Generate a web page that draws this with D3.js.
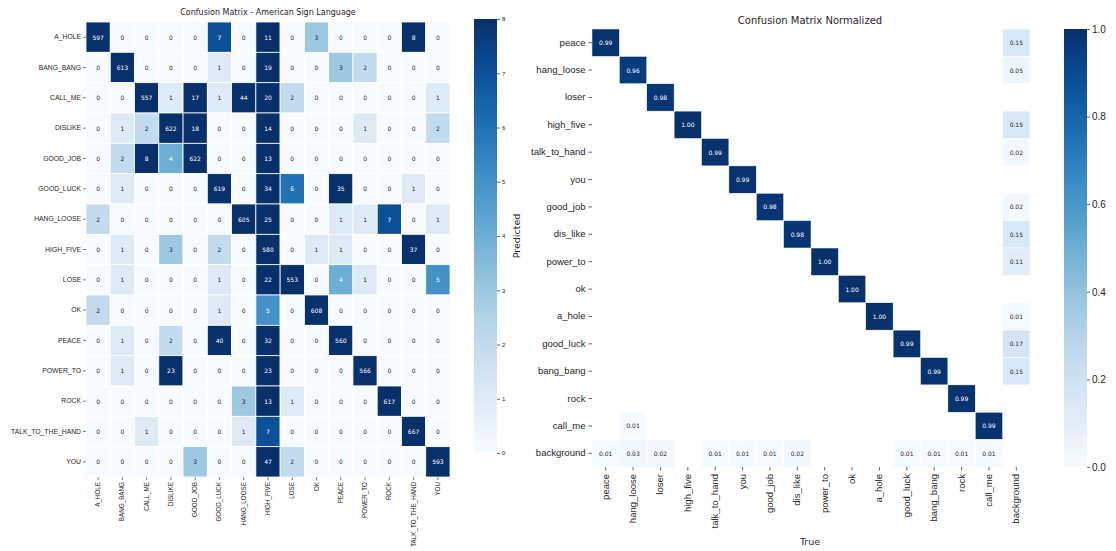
<!DOCTYPE html>
<html>
<head>
<meta charset="utf-8">
<script src="https://cdn.jsdelivr.net/npm/d3@7"></script>
<style>
  html, body { margin: 0; padding: 0; background: #fff; }
  svg { display: block; font-family: "DejaVu Sans", sans-serif; }
  .tick line { stroke: #262626; }
  .tick text { fill: #262626; }
</style>
</head>
<body>
<svg id="chart" width="1116" height="551"></svg>
<script>
// ---- American Sign Language counts (rows = actual, cols = predicted) ----
const aslLabels = ["A_HOLE", "BANG_BANG", "CALL_ME", "DISLIKE", "GOOD_JOB", "GOOD_LUCK",
  "HANG_LOOSE", "HIGH_FIVE", "LOSE", "OK", "PEACE", "POWER_TO", "ROCK", "TALK_TO_THE_HAND", "YOU"];
const aslCounts = [
  [597, 0, 0, 0, 0, 7, 0, 11, 0, 3, 0, 0, 0, 8, 0],
  [0, 613, 0, 0, 0, 1, 0, 19, 0, 0, 3, 2, 0, 0, 0],
  [0, 0, 557, 1, 17, 1, 44, 20, 2, 0, 0, 0, 0, 0, 1],
  [0, 1, 2, 622, 18, 0, 0, 14, 0, 0, 0, 1, 0, 0, 2],
  [0, 2, 8, 4, 622, 0, 0, 13, 0, 0, 0, 0, 0, 0, 0],
  [0, 1, 0, 0, 0, 619, 0, 34, 6, 0, 35, 0, 0, 1, 0],
  [2, 0, 0, 0, 0, 0, 605, 25, 0, 0, 1, 1, 7, 0, 1],
  [0, 1, 0, 3, 0, 2, 0, 580, 0, 1, 1, 0, 0, 37, 0],
  [0, 1, 0, 0, 0, 1, 0, 22, 553, 0, 4, 1, 0, 0, 5],
  [2, 0, 0, 0, 0, 1, 0, 5, 0, 608, 0, 0, 0, 0, 0],
  [0, 1, 0, 2, 0, 40, 0, 32, 0, 0, 560, 0, 0, 0, 0],
  [0, 1, 0, 23, 0, 0, 0, 23, 0, 0, 0, 566, 0, 0, 0],
  [0, 0, 0, 0, 0, 0, 3, 13, 1, 0, 0, 0, 617, 0, 0],
  [0, 0, 1, 0, 0, 0, 1, 7, 0, 0, 0, 0, 0, 667, 0],
  [0, 0, 0, 0, 3, 0, 0, 47, 2, 0, 0, 0, 0, 0, 593]
];
const aslColorMax = 8;
const aslColorTicks = [0, 1, 2, 3, 4, 5, 6, 7, 8];

// ---- Normalized matrix (rows = predicted, cols = true), 0 = not shown ----
const normLabels = ["peace", "hang_loose", "loser", "high_five", "talk_to_hand", "you",
  "good_job", "dis_like", "power_to", "ok", "a_hole", "good_luck", "bang_bang", "rock",
  "call_me", "background"];
const normValues = [
  [0.99, 0, 0, 0, 0, 0, 0, 0, 0, 0, 0, 0, 0, 0, 0, 0.15],
  [0, 0.96, 0, 0, 0, 0, 0, 0, 0, 0, 0, 0, 0, 0, 0, 0.05],
  [0, 0, 0.98, 0, 0, 0, 0, 0, 0, 0, 0, 0, 0, 0, 0, 0],
  [0, 0, 0, 1.00, 0, 0, 0, 0, 0, 0, 0, 0, 0, 0, 0, 0.15],
  [0, 0, 0, 0, 0.99, 0, 0, 0, 0, 0, 0, 0, 0, 0, 0, 0.02],
  [0, 0, 0, 0, 0, 0.99, 0, 0, 0, 0, 0, 0, 0, 0, 0, 0],
  [0, 0, 0, 0, 0, 0, 0.98, 0, 0, 0, 0, 0, 0, 0, 0, 0.02],
  [0, 0, 0, 0, 0, 0, 0, 0.98, 0, 0, 0, 0, 0, 0, 0, 0.15],
  [0, 0, 0, 0, 0, 0, 0, 0, 1.00, 0, 0, 0, 0, 0, 0, 0.11],
  [0, 0, 0, 0, 0, 0, 0, 0, 0, 1.00, 0, 0, 0, 0, 0, 0],
  [0, 0, 0, 0, 0, 0, 0, 0, 0, 0, 1.00, 0, 0, 0, 0, 0.01],
  [0, 0, 0, 0, 0, 0, 0, 0, 0, 0, 0, 0.99, 0, 0, 0, 0.17],
  [0, 0, 0, 0, 0, 0, 0, 0, 0, 0, 0, 0, 0.99, 0, 0, 0.15],
  [0, 0, 0, 0, 0, 0, 0, 0, 0, 0, 0, 0, 0, 0.99, 0, 0],
  [0, 0.01, 0, 0, 0, 0, 0, 0, 0, 0, 0, 0, 0, 0, 0.99, 0],
  [0.01, 0.03, 0.02, 0, 0.01, 0.01, 0.01, 0.02, 0, 0, 0, 0.01, 0.01, 0.01, 0.01, 0]
];
const normColorTicks = [0.0, 0.2, 0.4, 0.6, 0.8, 1.0];

const svg = d3.select("#chart");
svg.append("rect").attr("width", 1116).attr("height", 551).attr("fill", "#fff");
const defs = svg.append("defs");

// text colour on a cell: white on dark fills, dark grey on light ones
function textColor(fill) {
  const c = d3.rgb(fill);
  const lin = v => { v /= 255; return v <= 0.03928 ? v / 12.92 : Math.pow((v + 0.055) / 1.055, 2.4); };
  const lum = 0.2126 * lin(c.r) + 0.7152 * lin(c.g) + 0.0722 * lin(c.b);
  return lum > 0.408 ? "#262626" : "#ffffff";
}

function colorbar(id, scale, x, y0, y1, w, ticks, fmt, fontSize) {
  const grad = defs.append("linearGradient").attr("id", id)
    .attr("x1", 0).attr("y1", 1).attr("x2", 0).attr("y2", 0);
  const [d0, d1] = scale.domain();
  d3.range(0, 1.0001, 0.05).forEach(t => {
    grad.append("stop").attr("offset", t).attr("stop-color", scale(d0 + t * (d1 - d0)));
  });
  svg.append("rect").attr("x", x).attr("y", y0).attr("width", w).attr("height", y1 - y0)
    .attr("fill", `url(#${id})`);
  const ys = d3.scaleLinear().domain([d0, d1]).range([y1, y0]);
  const g = svg.append("g").attr("transform", `translate(${x + w},0)`)
    .call(d3.axisRight(ys).tickValues(ticks).tickFormat(fmt).tickSize(3).tickPadding(2));
  g.select(".domain").remove();
  g.selectAll("text").attr("font-size", fontSize);
  g.selectAll("line").attr("stroke-width", 0.7);
}

// ================= Left: counts heatmap =================
{
  const x = d3.scaleBand().domain(aslLabels).range([86, 450]);
  const y = d3.scaleBand().domain(aslLabels).range([22, 477]);
  const color = d3.scaleSequential(d3.interpolateBlues).domain([0, aslColorMax]).clamp(true);

  const cells = aslCounts.flatMap((row, i) => row.map((v, j) => ({ r: aslLabels[i], c: aslLabels[j], v })));
  const g = svg.append("g");
  g.selectAll("rect").data(cells).join("rect")
    .attr("x", d => x(d.c)).attr("y", d => y(d.r))
    .attr("width", x.bandwidth()).attr("height", y.bandwidth())
    .attr("fill", d => color(d.v)).attr("stroke", "#fff").attr("stroke-width", 0.8);
  g.selectAll("text").data(cells).join("text")
    .attr("x", d => x(d.c) + x.bandwidth() / 2).attr("y", d => y(d.r) + y.bandwidth() / 2)
    .attr("text-anchor", "middle").attr("dominant-baseline", "central")
    .attr("font-size", 6).attr("fill", d => textColor(color(d.v)))
    .text(d => d.v);

  const ay = svg.append("g").attr("transform", "translate(86,0)")
    .call(d3.axisLeft(y).tickSize(3).tickPadding(2));
  ay.select(".domain").remove();
  ay.selectAll("text").attr("font-size", 6.8);
  ay.selectAll("line").attr("stroke-width", 0.6);

  const ax = svg.append("g").attr("transform", "translate(0,477)")
    .call(d3.axisBottom(x).tickSize(3).tickPadding(2));
  ax.select(".domain").remove();
  ax.selectAll("line").attr("stroke-width", 0.6);
  ax.selectAll("text").attr("font-size", 6.3)
    .attr("text-anchor", "end").attr("dy", "0.32em")
    .attr("transform", "translate(0,5) rotate(-90)").attr("x", 0).attr("y", 0);

  svg.append("text").attr("x", 268).attr("y", 15).attr("text-anchor", "middle")
    .attr("font-size", 8).attr("fill", "#262626")
    .text("Confusion Matrix - American Sign Language");

  colorbar("cbL", color, 474, 19, 453, 23, aslColorTicks, d3.format("d"), 6);
}

// ================= Right: normalized heatmap =================
{
  const x = d3.scaleBand().domain(normLabels).range([592, 1030]);
  const y = d3.scaleBand().domain(normLabels).range([29, 467]);
  const color = d3.scaleSequential(d3.interpolateBlues).domain([0, 1]);

  const cells = normValues.flatMap((row, i) => row.map((v, j) => ({ r: normLabels[i], c: normLabels[j], v })))
    .filter(d => d.v >= 0.005);
  const g = svg.append("g");
  g.selectAll("rect").data(cells).join("rect")
    .attr("x", d => x(d.c)).attr("y", d => y(d.r))
    .attr("width", x.bandwidth()).attr("height", y.bandwidth())
    .attr("fill", d => color(d.v)).attr("stroke", "#fff").attr("stroke-width", 0.5);
  g.selectAll("text").data(cells).join("text")
    .attr("x", d => x(d.c) + x.bandwidth() / 2).attr("y", d => y(d.r) + y.bandwidth() / 2)
    .attr("text-anchor", "middle").attr("dominant-baseline", "central")
    .attr("font-size", 6).attr("fill", d => textColor(color(d.v)))
    .text(d => d3.format(".2f")(d.v));

  const ay = svg.append("g").attr("transform", "translate(592,0)")
    .call(d3.axisLeft(y).tickSize(3.5).tickPadding(3));
  ay.select(".domain").remove();
  ay.selectAll("text").attr("font-size", 9.5);
  ay.selectAll("line").attr("stroke-width", 0.7);

  const ax = svg.append("g").attr("transform", "translate(0,467)")
    .call(d3.axisBottom(x).tickSize(3.5).tickPadding(3));
  ax.select(".domain").remove();
  ax.selectAll("line").attr("stroke-width", 0.7);
  ax.selectAll("text").attr("font-size", 9.5)
    .attr("text-anchor", "end").attr("dy", "0.32em")
    .attr("transform", "translate(0,7) rotate(-90)").attr("x", 0).attr("y", 0);

  svg.append("text").attr("x", 810).attr("y", 24).attr("text-anchor", "middle")
    .attr("font-size", 10).attr("fill", "#262626").text("Confusion Matrix Normalized");
  svg.append("text").attr("x", 810).attr("y", 545).attr("text-anchor", "middle")
    .attr("font-size", 9.5).attr("fill", "#262626").text("True");
  svg.append("text").attr("transform", "translate(520,236) rotate(-90)").attr("text-anchor", "middle")
    .attr("font-size", 9.5).attr("fill", "#262626").text("Predicted");

  colorbar("cbR", color, 1064, 29, 467, 23, normColorTicks, d3.format(".1f"), 10);
}
</script>
</body>
</html>
